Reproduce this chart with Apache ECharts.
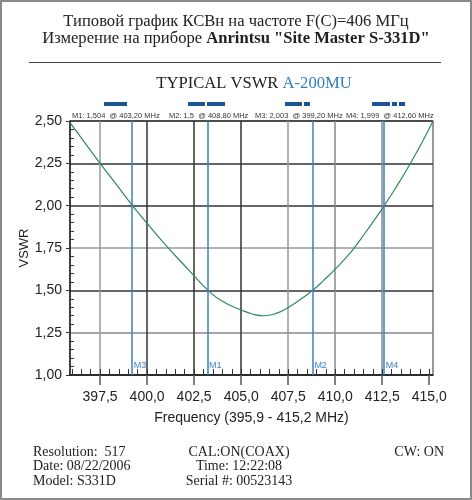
<!DOCTYPE html>
<html>
<head>
<meta charset="UTF-8">
<script src="https://cdn.jsdelivr.net/npm/echarts@6/dist/echarts.min.js"></script>
<title>VSWR A-200MU</title>
<style>
  html, body { margin: 0; padding: 0; background: #fff; }
  #main { width: 472px; height: 500px; }
</style>
</head>
<body>
<div id="main"></div>
<script type="text/javascript">
// частота, МГц
var freq = [395.9, 396.5, 397.5, 398.4, 399.2, 399.6, 400.0, 401.0, 402.0, 402.5, 403.2, 404.0, 405.0, 405.6,
            406.2, 406.9, 407.5, 408.2, 408.8, 409.4, 410.0, 410.9, 411.6, 412.6, 413.3, 414.0, 414.6, 415.2];
// КСВн
var vswr = [2.49, 2.40, 2.25, 2.12, 2.003, 1.948, 1.895, 1.765, 1.645, 1.585, 1.504, 1.435, 1.384, 1.36,
            1.35, 1.365, 1.398, 1.45, 1.50, 1.56, 1.625, 1.735, 1.84, 1.999, 2.12, 2.25, 2.37, 2.50];
// маркеры
var markerNames = ['M1', 'M2', 'M3', 'M4'];
var markerFreq = [403.2, 408.8, 399.2, 412.6];
var markerVswr = ['1,504', '1,5', '2,003', '1,999'];
// подписи оси X
var xTicks = [397.5, 400, 402.5, 405, 407.5, 410, 412.5, 415];

var xMinor = [];
for (var t = 396; t <= 415; t += 0.5) xMinor.push(t);

var comma = function (v, d) { return v.toFixed(d).replace('.', ','); };
var sans = 'Liberation Sans';
var serif = 'Liberation Serif';

var myChart = echarts.init(document.getElementById('main'));

var headerX = [72, 169, 255, 346];
var graphics = [
  { type: 'rect', shape: { x: 1, y: 1, width: 470, height: 498 }, style: { fill: 'none', stroke: '#8a8a8a', lineWidth: 2 } },
  { type: 'text', x: 236, y: 22, style: { text: 'Типовой график КСВн на частоте F(C)=406 МГц', font: '16.6px ' + serif, fill: '#222', textAlign: 'center', textVerticalAlign: 'middle' } },
  { type: 'text', x: 236, y: 39, style: {
      text: '{n|Измерение на приборе }{b|Anrintsu "Site Master S-331D"}', textAlign: 'center', textVerticalAlign: 'middle',
      rich: { n: { fontFamily: serif, fontSize: 16.6, fill: '#222' }, b: { fontFamily: serif, fontSize: 16.6, fontWeight: 'bold', fill: '#222' } } } },
  { type: 'line', shape: { x1: 29, y1: 62.5, x2: 441, y2: 62.5 }, style: { stroke: '#444', lineWidth: 1 } },
  { type: 'text', x: 254, y: 84, style: {
      text: '{a|TYPICAL VSWR }{b|A-200MU}', textAlign: 'center', textVerticalAlign: 'middle',
      rich: { a: { fontFamily: serif, fontSize: 16.6, fill: '#222' }, b: { fontFamily: serif, fontSize: 16.6, fill: '#2f7fc1' } } } },
  { type: 'text', left: 33, top: 445, style: { text: 'Resolution:  517\nDate: 08/22/2006\nModel: S331D', font: '14px ' + serif, fill: '#222', lineHeight: 14.5 } },
  { type: 'text', x: 239, y: 445, style: { text: 'CAL:ON(COAX)\nTime: 12:22:08\nSerial #: 00523143', font: '14px ' + serif, fill: '#222', lineHeight: 14.5, textAlign: 'center' } },
  { type: 'text', x: 444, y: 445, style: { text: 'CW: ON', font: '14px ' + serif, fill: '#222', textAlign: 'right' } }
];
// тёмные полоски над графиком
[[104, 23], [188, 17], [207, 18], [285, 17], [304, 6], [372, 18], [392, 5], [399, 6]].forEach(function (b) {
  graphics.push({ type: 'rect', shape: { x: b[0], y: 102, width: b[1], height: 4 }, style: { fill: '#1b5592' } });
});
markerNames.forEach(function (m, i) {
  graphics.push({ type: 'text', x: headerX[i], y: 116, style: {
    text: m + ': ' + markerVswr[i] + '  @ ' + comma(markerFreq[i], 2) + ' MHz',
    font: '7.5px ' + sans, fill: '#333', textVerticalAlign: 'middle' } });
});

var option = {
  backgroundColor: '#fff',
  animation: false,
  grid: { left: 70, top: 121, width: 363, height: 254, show: true, borderColor: '#333', borderWidth: 1 },
  xAxis: [{
    type: 'value', min: 395.9, max: 415.2,
    name: 'Frequency (395,9 - 415,2 MHz)', nameLocation: 'middle', nameGap: 36, nameMoveOverlap: false,
    nameTextStyle: { fontFamily: sans, fontSize: 14, color: '#222' },
    axisLine: { lineStyle: { color: '#222', width: 1.5 } },
    axisTick: { customValues: xTicks, length: 10, lineStyle: { color: '#555', width: 1.5 } },
    axisLabel: { customValues: xTicks, formatter: function (v) { return comma(v, 1); }, margin: 15, fontFamily: sans, fontSize: 14, color: '#222' },
    splitLine: { show: true, lineStyle: { color: ['#999', '#333', '#333', '#333', '#999', '#888', '#888', 'rgba(0,0,0,0)'], width: 1.5 } }
  }, {
    type: 'value', min: 395.9, max: 415.2, position: 'bottom', offset: 0,
    axisLine: { show: false }, axisLabel: { show: false }, splitLine: { show: false },
    axisTick: { customValues: xMinor, inside: true, length: 6, lineStyle: { color: '#333', width: 1 } }
  }],
  yAxis: {
    type: 'value', min: 1, max: 2.5, interval: 0.25,
    name: 'VSWR', nameLocation: 'middle', nameGap: 39, nameMoveOverlap: false,
    nameTextStyle: { fontFamily: sans, fontSize: 13, color: '#222' },
    axisLine: { show: true, lineStyle: { color: '#222', width: 1.5 } },
    axisTick: { show: true, length: 4, lineStyle: { color: '#333' } },
    minorTick: { show: true, splitNumber: 5, length: -4, lineStyle: { color: '#333' } },
    axisLabel: { formatter: function (v) { return comma(v, 2); }, margin: 8, fontFamily: sans, fontSize: 14, color: '#222' },
    splitLine: { lineStyle: { color: ['#333', '#888', '#333', '#999', '#333', '#333', '#333'], width: 1.5 } }
  },
  series: [{
    type: 'line',
    data: freq.map(function (f, i) { return [f, vswr[i]]; }),
    smooth: 0.5,
    symbol: 'none',
    lineStyle: { color: '#2e8b5a', width: 1.2 },
    markLine: {
      silent: true, symbol: 'none', animation: false,
      lineStyle: { color: '#3f7fc0', type: 'solid', width: 1.5 },
      label: { show: true, position: 'start', formatter: function (p) { return p.name; }, color: '#3f7fc0', fontFamily: sans, fontSize: 9, offset: [8, -19] },
      data: markerFreq.map(function (f, i) { return { name: markerNames[i], xAxis: f }; })
    }
  }],
  graphic: graphics
};
myChart.setOption(option);
</script>
</body>
</html>
